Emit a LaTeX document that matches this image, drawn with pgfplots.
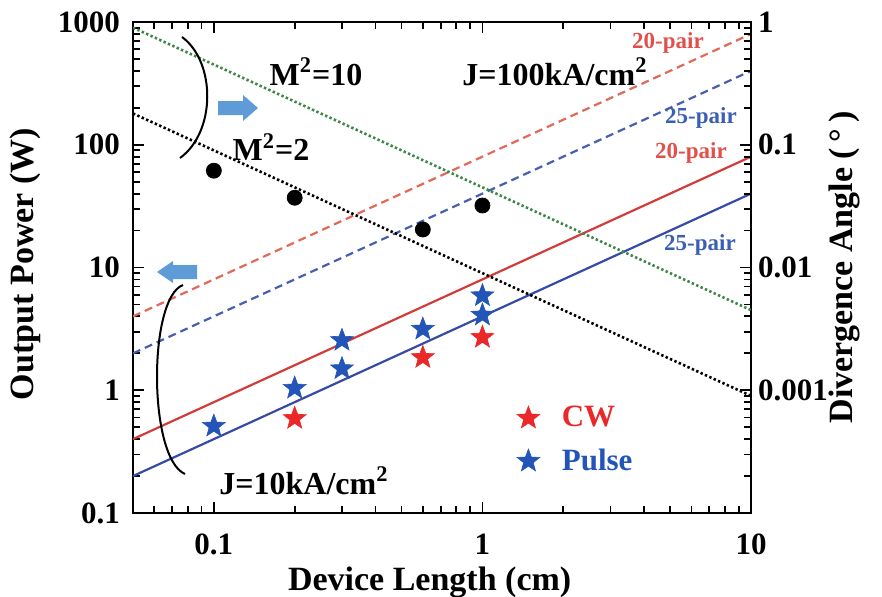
\documentclass[border=0pt]{standalone}
\usepackage{pgfplots}
\pgfplotsset{compat=1.18}
\usepackage{fontspec}
\setmainfont{Liberation Serif}

\definecolor{cred}{RGB}{210,60,58}
\definecolor{cdred}{RGB}{225,105,90}
\definecolor{cblue}{RGB}{55,75,165}
\definecolor{cdblue}{RGB}{70,95,175}
\definecolor{cgreen}{RGB}{60,135,70}
\definecolor{sred}{RGB}{235,40,40}
\definecolor{sblue}{RGB}{35,85,185}
\definecolor{arrowblue}{RGB}{95,155,215}
\definecolor{pred}{RGB}{225,80,75}
\definecolor{pblue}{RGB}{60,95,180}

\pgfdeclareplotmark{fstar}{%
  \pgfpathmoveto{\pgfpointpolar{90}{\pgfplotmarksize}}%
  \pgfpathlineto{\pgfpointpolar{126}{0.42\pgfplotmarksize}}%
  \pgfpathlineto{\pgfpointpolar{162}{\pgfplotmarksize}}%
  \pgfpathlineto{\pgfpointpolar{198}{0.42\pgfplotmarksize}}%
  \pgfpathlineto{\pgfpointpolar{234}{\pgfplotmarksize}}%
  \pgfpathlineto{\pgfpointpolar{270}{0.42\pgfplotmarksize}}%
  \pgfpathlineto{\pgfpointpolar{306}{\pgfplotmarksize}}%
  \pgfpathlineto{\pgfpointpolar{342}{0.42\pgfplotmarksize}}%
  \pgfpathlineto{\pgfpointpolar{18}{\pgfplotmarksize}}%
  \pgfpathlineto{\pgfpointpolar{54}{0.42\pgfplotmarksize}}%
  \pgfpathclose
  \pgfusepathqfillstroke
}

\begin{document}
\begin{tikzpicture}
\pgfplotsset{
  every axis/.append style={
    scale only axis, width=309pt, height=245.5pt,
    at={(0,0)}, anchor=south west,
    xmode=log, ymode=log, xmin=0.05, xmax=10,
    axis line style={line width=1.3pt},
    major tick length=5.5pt, minor tick length=3.5pt,
    every tick/.style={line width=0.9pt, black},
    tick label style={font=\fontsize{15.5}{18}\selectfont\bfseries},
    label style={font=\fontsize{17}{20}\selectfont\bfseries},
  }
}
\begin{axis}[
  ymin=0.1, ymax=1000,
  ytick={0.1,1,10,100,1000}, yticklabels={0.1,1,10,100,1000},
  minor ytick={0.2,0.3,0.4,0.5,0.6,0.7,0.8,0.9,2,3,4,5,6,7,8,9,20,30,40,50,60,70,80,90,200,300,400,500,600,700,800,900},
  xtick={0.1,1,10}, xticklabels={0.1,1,10},
  minor xtick={0.06,0.07,0.08,0.09,0.2,0.3,0.4,0.5,0.6,0.7,0.8,0.9,2,3,4,5,6,7,8,9},
  ytick pos=left,
  xticklabel style={yshift=-7pt},
  yticklabel style={xshift=-3pt},
  xlabel={Device Length (cm)}, ylabel={Output Power (W)},
  xlabel style={at={(axis description cs:0.48,-0.142)}, anchor=center},
  ylabel style={at={(axis description cs:-0.175,0.507)}, anchor=center},
  legend style={draw=none, fill=none, at={(axis description cs:0.718,0.149)}, anchor=center,
    font=\fontsize{15.5}{18}\selectfont\bfseries, row sep=5.5pt,
    /tikz/every odd column/.append style={column sep=9pt}},
  legend cell align=left,
]
\addplot[cdred, line width=1.1pt, dash pattern=on 4pt off 2.5pt, forget plot] coordinates {(0.05,4) (10,800)};
\addplot[cdblue, line width=1.1pt, dash pattern=on 4pt off 2.5pt, forget plot] coordinates {(0.05,2) (10,400)};
\addplot[cred, line width=1.1pt, forget plot] coordinates {(0.05,0.4) (10,80)};
\addplot[cblue, line width=1.1pt, forget plot] coordinates {(0.05,0.2) (10,40)};
\addplot[only marks, mark=fstar, mark size=6pt, color=sred, mark options={line width=0.3pt}] coordinates {
  (0.2,0.59) (0.6,1.85) (1.0,2.7)};
\addlegendentry{\textcolor{sred}{CW}}
\addplot[only marks, mark=fstar, mark size=6pt, color=sblue, mark options={line width=0.3pt}] coordinates {
  (0.1,0.51) (0.2,1.04) (0.3,1.5) (0.3,2.55) (0.6,3.15) (1.0,4.1) (1.0,5.9)};
\addlegendentry{\textcolor{sblue}{Pulse}}
\end{axis}

\begin{axis}[
  ymin=1e-4, ymax=1,
  axis x line=none, axis y line*=right,
  ytick={0.001,0.01,0.1,1}, yticklabels={0.001,0.01,0.1,1},
  minor ytick={0.0002,0.0003,0.0004,0.0005,0.0006,0.0007,0.0008,0.0009,0.002,0.003,0.004,0.005,0.006,0.007,0.008,0.009,0.02,0.03,0.04,0.05,0.06,0.07,0.08,0.09,0.2,0.3,0.4,0.5,0.6,0.7,0.8,0.9},
  ylabel={Divergence Angle (\,°\,)},
  ylabel style={at={(axis description cs:1.152,0.5)}, anchor=center},
]
\addplot[cgreen, line width=1.3pt, dash pattern=on 1.2pt off 1.2pt] coordinates {(0.05,0.9) (10,0.0045)};
\addplot[black, line width=1.3pt, dash pattern=on 1.2pt off 1.2pt] coordinates {(0.05,0.18) (10,0.0009)};
\addplot[only marks, mark=*, mark size=3.75pt, black] coordinates {
  (0.1,0.0615) (0.2,0.037) (0.6,0.0204) (1.0,0.032)};
\end{axis}

\begin{scope}[x=0.5pt, y=-0.5pt, shift={(-66.5pt,256.5pt)}]
  \draw[line width=1pt] (182,37) .. controls (216,62) and (216,132) .. (180,158);
  \draw[line width=1pt] (183,285) .. controls (148,298) and (148,458) .. (185,474);
  \fill[arrowblue] (218,101) -- (243,101) -- (243,95) -- (258,108) -- (243,121) -- (243,115) -- (218,115) -- cycle;
  \fill[arrowblue] (197,265) -- (173,265) -- (173,261) -- (157,272) -- (173,283) -- (173,279) -- (197,279) -- cycle;
  \begin{scope}[every node/.style={font=\fontsize{16}{19}\selectfont\bfseries, inner sep=0pt}]
    \node at (316,72) {M\textsuperscript{2}=10};
    \node at (555,72) {J=100kA/cm\textsuperscript{2}};
    \node at (271,147) {M\textsuperscript{2}=2};
    \node at (304,481) {J=10kA/cm\textsuperscript{2}};
  \end{scope}
  \begin{scope}[every node/.style={font=\fontsize{11.5}{13}\selectfont\bfseries, inner sep=0pt}]
    \node[text=pred] at (668,43) {20-pair};
    \node[text=pblue] at (701,118) {25-pair};
    \node[text=pred] at (691,153) {20-pair};
    \node[text=pblue] at (700,245) {25-pair};
  \end{scope}
\end{scope}

\pgfresetboundingbox
\useasboundingbox (-66.5pt,-41.5pt) rectangle (374.5pt,256.5pt);
\end{tikzpicture}
\end{document}
